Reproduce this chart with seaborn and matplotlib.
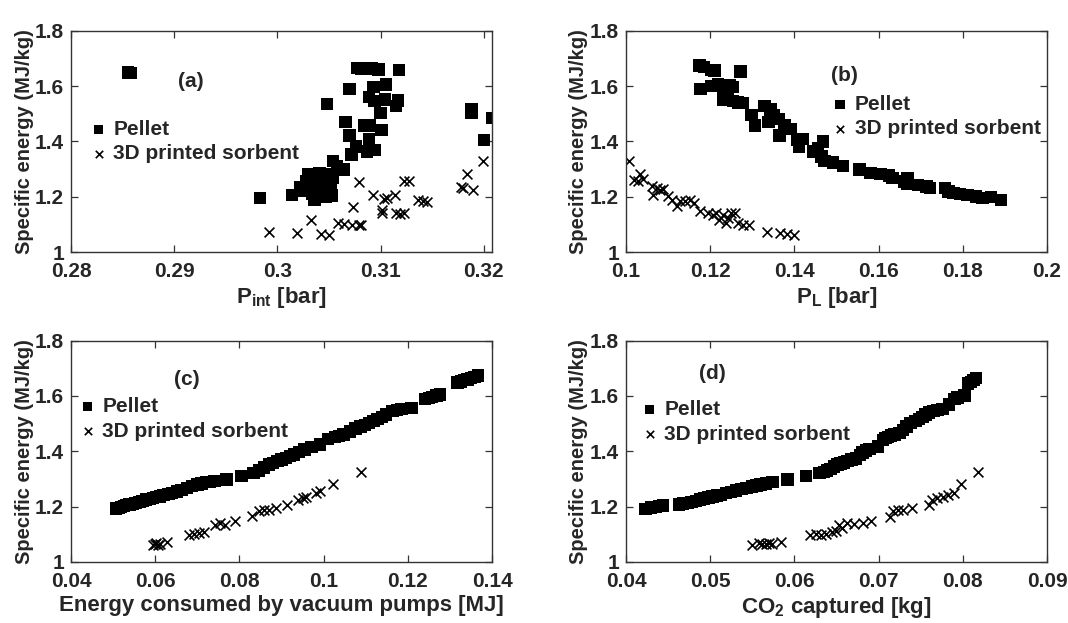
import numpy as np
import pandas as pd
import matplotlib
matplotlib.use('Agg')
import matplotlib.pyplot as plt
from matplotlib.ticker import FuncFormatter
import seaborn as sns

# (a) specific energy vs intermediate pressure
a_pellet_x = [0.2855, 0.2858, 0.2983, 0.3014, 0.3048, 0.3070, 0.3066, 0.3070, 0.3076, 0.3072,
              0.3054, 0.3064, 0.3077, 0.3081, 0.3087, 0.3091, 0.3098, 0.3118, 0.3093, 0.3105,
              0.3089, 0.3094, 0.3104, 0.3115, 0.3117, 0.3100, 0.3101, 0.3084, 0.3090, 0.3089,
              0.3087, 0.3094, 0.3188, 0.3188, 0.3200, 0.3208,
              0.3022, 0.3026, 0.3028, 0.3030, 0.3033, 0.3034, 0.3036, 0.3037, 0.3039, 0.3040,
              0.3042, 0.3043, 0.3045, 0.3047, 0.3048, 0.3050, 0.3052, 0.3054, 0.3053, 0.3036,
              0.3041, 0.3046, 0.3031, 0.3058, 0.3062]
a_pellet_y = [1.649, 1.647, 1.196, 1.206, 1.536, 1.589, 1.469, 1.421, 1.382, 1.352,
              1.328, 1.298, 1.665, 1.662, 1.666, 1.664, 1.660, 1.657, 1.596, 1.605,
              1.560, 1.545, 1.551, 1.527, 1.548, 1.502, 1.442, 1.457, 1.457, 1.408,
              1.364, 1.368, 1.517, 1.505, 1.404, 1.484,
              1.235, 1.220, 1.255, 1.280, 1.240, 1.210, 1.190, 1.250, 1.270, 1.230,
              1.205, 1.260, 1.240, 1.200, 1.280, 1.220, 1.250, 1.270, 1.205, 1.230,
              1.285, 1.220, 1.260, 1.310, 1.300]
a_sorb_x = [0.2992, 0.3019, 0.3033, 0.3042, 0.3050, 0.3059, 0.3065, 0.3072, 0.3079, 0.3081,
            0.3073, 0.3079, 0.3093, 0.3101, 0.3101, 0.3103, 0.3106, 0.3114, 0.3115, 0.3119,
            0.3123, 0.3123, 0.3128, 0.3136, 0.3141, 0.3145, 0.3178, 0.3180, 0.3184, 0.3190,
            0.3199]
a_sorb_y = [1.072, 1.069, 1.114, 1.065, 1.061, 1.105, 1.102, 1.099, 1.099, 1.098,
            1.161, 1.253, 1.205, 1.141, 1.151, 1.192, 1.195, 1.205, 1.141, 1.137,
            1.141, 1.255, 1.258, 1.187, 1.183, 1.181, 1.234, 1.231, 1.283, 1.225,
            1.328]

# (b) specific energy vs low pressure
b_pellet_x = [0.1175, 0.1186, 0.1202, 0.1210, 0.1272, 0.1177, 0.1202, 0.1218, 0.1230, 0.1246,
              0.1254, 0.1232, 0.1242, 0.1254, 0.1266, 0.1277, 0.1298, 0.1307, 0.1329, 0.1343,
              0.1351, 0.1339, 0.1363, 0.1365, 0.1377, 0.1391, 0.1407, 0.1419, 0.1411, 0.1444,
              0.1456, 0.1468, 0.1464, 0.1472, 0.1492, 0.1516, 0.1555, 0.1581, 0.1605, 0.1625,
              0.1633, 0.1661, 0.1669, 0.1668, 0.1694, 0.1714, 0.1722, 0.1758, 0.1766, 0.1778,
              0.1794, 0.1811, 0.1831, 0.1847, 0.1867, 0.1891]
b_pellet_y = [1.675, 1.668, 1.659, 1.656, 1.653, 1.589, 1.601, 1.608, 1.596, 1.602,
              1.596, 1.551, 1.551, 1.545, 1.541, 1.539, 1.496, 1.457, 1.527, 1.515,
              1.496, 1.469, 1.481, 1.421, 1.457, 1.445, 1.406, 1.409, 1.382, 1.364,
              1.376, 1.400, 1.346, 1.328, 1.324, 1.310, 1.298, 1.286, 1.283, 1.276,
              1.268, 1.255, 1.268, 1.247, 1.243, 1.237, 1.231, 1.231, 1.219, 1.213,
              1.210, 1.207, 1.201, 1.195, 1.199, 1.189]
b_sorb_x = [0.1008, 0.1020, 0.1028, 0.1034, 0.1040, 0.1061, 0.1065, 0.1073, 0.1081, 0.1089,
            0.1099, 0.1109, 0.1121, 0.1129, 0.1141, 0.1153, 0.1161, 0.1177, 0.1194, 0.1206,
            0.1214, 0.1222, 0.1230, 0.1238, 0.1242, 0.1250, 0.1258, 0.1266, 0.1278, 0.1292,
            0.1335, 0.1367, 0.1383, 0.1399]
b_sorb_y = [1.330, 1.261, 1.255, 1.283, 1.263, 1.237, 1.207, 1.231, 1.225, 1.228,
            1.201, 1.189, 1.165, 1.183, 1.183, 1.187, 1.177, 1.147, 1.141, 1.135,
            1.141, 1.117, 1.135, 1.105, 1.123, 1.141, 1.141, 1.105, 1.099, 1.099,
            1.071, 1.069, 1.065, 1.061]

# (c) specific energy vs vacuum pump energy
c_pellet_x = [0.0507, 0.0513, 0.0519, 0.0526, 0.0532, 0.0539, 0.0546, 0.0553, 0.0563, 0.0570,
              0.0578, 0.0587, 0.0595, 0.0603, 0.0612, 0.0620, 0.0632, 0.0640, 0.0652, 0.0662,
              0.0676, 0.0688, 0.0700, 0.0710, 0.0720, 0.0730, 0.0741, 0.0769, 0.0805, 0.0833,
              0.0846, 0.0858, 0.0870, 0.0880, 0.0890, 0.0900, 0.0910, 0.0920, 0.0930, 0.0942,
              0.0955, 0.0971, 0.0991, 0.1011, 0.1027, 0.1037, 0.1047, 0.1063, 0.1076, 0.1088,
              0.1098, 0.1108, 0.1118, 0.1128, 0.1138, 0.1148, 0.1164, 0.1174, 0.1185, 0.1209,
              0.1241, 0.1250, 0.1257, 0.1268, 0.1277, 0.1318, 0.1326, 0.1334, 0.1342, 0.1350,
              0.1358, 0.1366]
c_pellet_y = [1.193, 1.196, 1.199, 1.202, 1.205, 1.207, 1.210, 1.214, 1.216, 1.220,
              1.225, 1.228, 1.231, 1.235, 1.237, 1.241, 1.246, 1.250, 1.255, 1.261,
              1.268, 1.274, 1.280, 1.284, 1.288, 1.290, 1.292, 1.298, 1.310, 1.322,
              1.331, 1.342, 1.352, 1.358, 1.364, 1.370, 1.376, 1.382, 1.388, 1.397,
              1.406, 1.415, 1.424, 1.445, 1.452, 1.456, 1.460, 1.472, 1.482, 1.490,
              1.496, 1.502, 1.510, 1.517, 1.525, 1.533, 1.545, 1.549, 1.553, 1.557,
              1.589, 1.592, 1.596, 1.601, 1.605, 1.649, 1.652, 1.657, 1.660, 1.665,
              1.669, 1.674]
c_sorb_x = [0.0595, 0.0600, 0.0603, 0.0607, 0.0612, 0.0628, 0.0680, 0.0692, 0.0704, 0.0716,
            0.0741, 0.0753, 0.0765, 0.0789, 0.0829, 0.0846, 0.0858, 0.0870, 0.0886, 0.0914,
            0.0938, 0.0950, 0.0959, 0.0983, 0.0991, 0.1023, 0.1088]
c_sorb_y = [1.063, 1.066, 1.069, 1.062, 1.065, 1.071, 1.099, 1.102, 1.105, 1.107,
            1.135, 1.141, 1.135, 1.147, 1.165, 1.183, 1.189, 1.189, 1.195, 1.207,
            1.225, 1.231, 1.235, 1.249, 1.255, 1.283, 1.325]

# (d) specific energy vs CO2 captured
d_pellet_x = [0.0423, 0.0430, 0.0436, 0.0440, 0.0444, 0.0463, 0.0468, 0.0473, 0.0478, 0.0483,
              0.0488, 0.0493, 0.0498, 0.0503, 0.0508, 0.0513, 0.0519, 0.0525, 0.0531, 0.0537,
              0.0543, 0.0550, 0.0555, 0.0560, 0.0566, 0.0574, 0.0592, 0.0614, 0.0630, 0.0635,
              0.0639, 0.0643, 0.0647, 0.0651, 0.0655, 0.0659, 0.0663, 0.0668, 0.0673, 0.0678,
              0.0681, 0.0685, 0.0689, 0.0699, 0.0705, 0.0708, 0.0711, 0.0715, 0.0719, 0.0725,
              0.0729, 0.0733, 0.0738, 0.0744, 0.0748, 0.0752, 0.0756, 0.0760, 0.0765, 0.0770,
              0.0776, 0.0784, 0.0790, 0.0794, 0.0802, 0.0806, 0.0810, 0.0813, 0.0816]
d_pellet_y = [1.192, 1.197, 1.199, 1.202, 1.204, 1.207, 1.211, 1.214, 1.217, 1.221,
              1.225, 1.229, 1.233, 1.236, 1.240, 1.243, 1.249, 1.253, 1.258, 1.263,
              1.268, 1.273, 1.277, 1.280, 1.283, 1.288, 1.298, 1.310, 1.322, 1.326,
              1.330, 1.336, 1.345, 1.352, 1.356, 1.360, 1.365, 1.370, 1.374, 1.386,
              1.395, 1.403, 1.409, 1.418, 1.440, 1.448, 1.452, 1.457, 1.460, 1.466,
              1.478, 1.490, 1.502, 1.510, 1.517, 1.525, 1.533, 1.540, 1.545, 1.549,
              1.553, 1.569, 1.589, 1.595, 1.601, 1.645, 1.651, 1.657, 1.665]
d_sorb_x = [0.0550, 0.0558, 0.0562, 0.0566, 0.0570, 0.0574, 0.0584, 0.0618, 0.0626, 0.0632,
            0.0638, 0.0645, 0.0649, 0.0653, 0.0657, 0.0663, 0.0671, 0.0681, 0.0691, 0.0713,
            0.0717, 0.0723, 0.0729, 0.0740, 0.0760, 0.0764, 0.0770, 0.0776, 0.0782, 0.0790,
            0.0798, 0.0818]
d_sorb_y = [1.063, 1.069, 1.066, 1.065, 1.069, 1.066, 1.072, 1.096, 1.102, 1.099,
            1.102, 1.107, 1.111, 1.135, 1.123, 1.141, 1.137, 1.141, 1.147, 1.163,
            1.183, 1.189, 1.189, 1.195, 1.207, 1.225, 1.231, 1.235, 1.242, 1.249,
            1.283, 1.325]

ylabel = 'Specific energy (MJ/kg)'
series_labels = ['Pellet', '3D printed sorbent']

panels = [
    dict(px=a_pellet_x, py=a_pellet_y, sx=a_sorb_x, sy=a_sorb_y,
         xlabel=r'P$_{int}$ [bar]', xlim=(0.28, 0.3208), xticks=[0.28, 0.29, 0.30, 0.31, 0.32],
         tag='(a)', tag_xy=(0.2916, 1.617), leg=(0.031, 0.50)),
    dict(px=b_pellet_x, py=b_pellet_y, sx=b_sorb_x, sy=b_sorb_y,
         xlabel=r'P$_{L}$ [bar]', xlim=(0.1, 0.2), xticks=[0.1, 0.12, 0.14, 0.16, 0.18, 0.2],
         tag='(b)', tag_xy=(0.152, 1.637), leg=(0.474, 0.613)),
    dict(px=c_pellet_x, py=c_pellet_y, sx=c_sorb_x, sy=c_sorb_y,
         xlabel='Energy consumed by vacuum pumps [MJ]', xlim=(0.04, 0.14),
         xticks=[0.04, 0.06, 0.08, 0.1, 0.12, 0.14],
         tag='(c)', tag_xy=(0.0676, 1.659), leg=(0.005, 0.6465)),
    dict(px=d_pellet_x, py=d_pellet_y, sx=d_sorb_x, sy=d_sorb_y,
         xlabel=r'CO$_{2}$ captured [kg]', xlim=(0.04, 0.09),
         xticks=[0.04, 0.05, 0.06, 0.07, 0.08, 0.09],
         tag='(d)', tag_xy=(0.0503, 1.683), leg=(0.022, 0.633)),
]

sns.set_style('ticks')
plt.rcParams['font.family'] = ['Liberation Sans', 'DejaVu Sans']
plt.rcParams['font.weight'] = 'bold'
plt.rcParams['axes.labelweight'] = 'bold'
plt.rcParams['mathtext.fontset'] = 'custom'
plt.rcParams['mathtext.rm'] = 'Liberation Sans:bold'
plt.rcParams['mathtext.bf'] = 'Liberation Sans:bold'
plt.rcParams['mathtext.it'] = 'Liberation Sans:bold'
plt.rcParams['mathtext.default'] = 'bf'

fig = plt.figure(figsize=(10.68, 6.23), dpi=100)
positions = [
    [0.0665, 0.5955, 0.3942, 0.3552],
    [0.5861, 0.5955, 0.3942, 0.3552],
    [0.0665, 0.0980, 0.3942, 0.3552],
    [0.5861, 0.0980, 0.3942, 0.3552],
]

fmt = FuncFormatter(lambda v, p: '%g' % round(v, 4))

for pos, p in zip(positions, panels):
    ax = fig.add_axes(pos)
    pel = pd.DataFrame({'x': p['px'], 'y': p['py']})
    sor = pd.DataFrame({'x': p['sx'], 'y': p['sy']})
    sns.scatterplot(data=pel, x='x', y='y', ax=ax, marker='s', s=80, color='black',
                    edgecolor='none', label=series_labels[0])
    sns.scatterplot(data=sor, x='x', y='y', ax=ax, marker='x', s=50, color='black',
                    linewidth=1.2, label=series_labels[1])
    ax.set_xlim(*p['xlim'])
    ax.set_ylim(1, 1.8)
    ax.set_xticks(p['xticks'])
    ax.set_yticks([1, 1.2, 1.4, 1.6, 1.8])
    ax.xaxis.set_major_formatter(fmt)
    ax.yaxis.set_major_formatter(fmt)
    ax.tick_params(direction='in', top=True, right=True, length=5, width=0.9,
                   labelsize=15, color='#333333')
    ax.tick_params(axis='x', pad=7)
    ax.tick_params(axis='y', pad=5)
    for sp in ax.spines.values():
        sp.set_linewidth(1.0)
        sp.set_color('#333333')
    ax.set_xlabel(p['xlabel'], fontsize=16, fontweight='bold', labelpad=3)
    ax.set_ylabel(ylabel, fontsize=14.5, fontweight='bold', labelpad=1)
    ax.text(p['tag_xy'][0], p['tag_xy'][1], p['tag'], fontsize=15, fontweight='bold',
            ha='center', va='center')
    ax.legend(loc='center left', bbox_to_anchor=p['leg'], frameon=False, fontsize=15,
              handletextpad=0.1, labelspacing=0.26, borderpad=0.1, handlelength=1.2,
              markerscale=0.75, borderaxespad=0)

fig.savefig('out.png', dpi=100)
